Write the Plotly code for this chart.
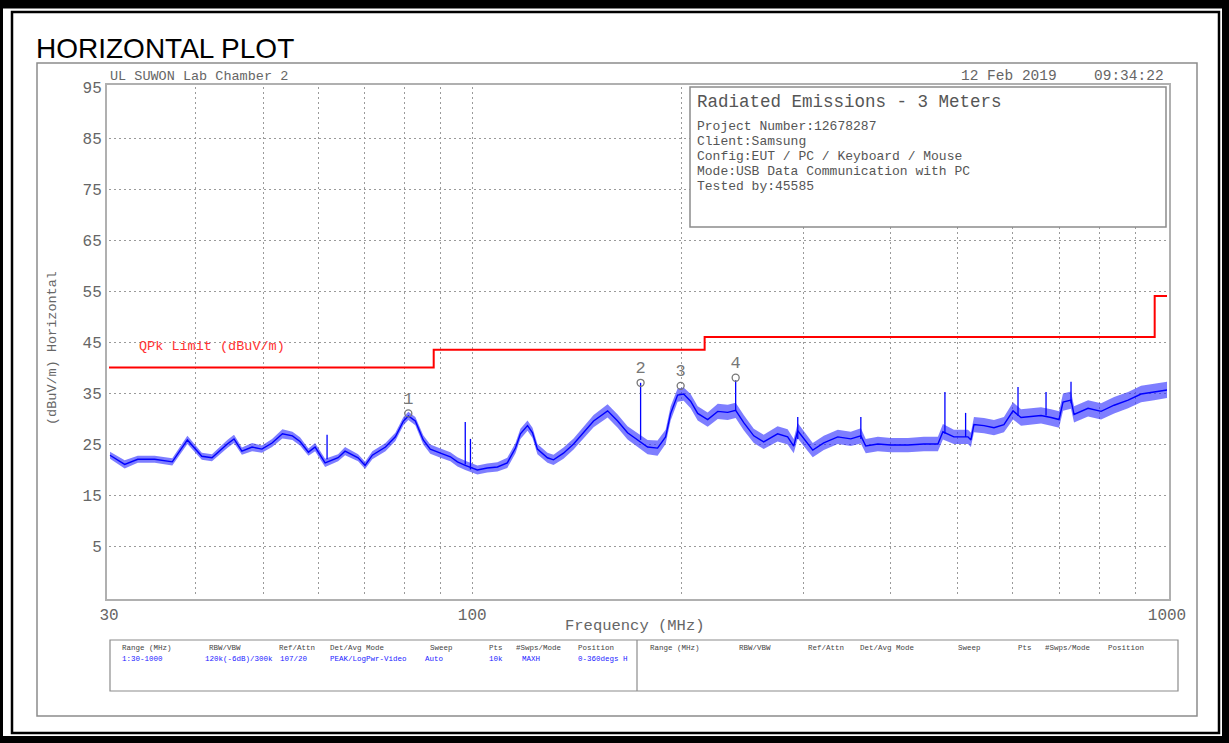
import plotly.graph_objects as go

# ---------------- data ----------------
freq_mhz = [30.1, 31.6, 33.0, 34.9, 37.0, 38.9, 40.8, 42.2, 44.4, 45.4, 46.6, 48.2, 49.8, 51.5,
            53.3, 55.1, 56.5, 58.1, 59.4, 61.4, 64.1, 65.6, 68.5, 70.1, 71.8, 75.0, 77.5, 79.6,
            80.9, 82.8, 85.0, 87.0, 90.0, 93.0, 95.2, 97.7, 101.7, 105.1, 108.7, 112.3, 115.4,
            117.3, 120.1, 122.1, 124.1, 128.3, 130.9, 135.3, 139.9, 144.6, 149.5, 156.6, 161.9,
            167.3, 173.0, 178.8, 184.8, 189.8, 193.0, 197.5, 201.5, 206.2, 211.1, 218.2, 225.6,
            233.2, 239.4, 245.9, 254.2, 262.7, 275.1, 284.4, 290.2, 294.1, 309.1, 320.6, 335.8,
            350.6, 362.5, 368.5, 383.5, 400.4, 423.7, 446.7, 468.0, 475.8, 493.4, 517.0, 522.1,
            527.4, 545.2, 563.6, 582.5, 600.3, 616.4, 637.2, 658.7, 680.9, 699.2, 708.5, 727.5,
            734.8, 769.8, 803.8, 839.2, 879.1, 917.7, 958.1, 1000.0]
level_dbuv = [22.8, 21.0, 22.0, 22.0, 21.5, 25.8, 22.6, 22.3, 25.0, 26.0, 23.6, 24.4, 24.0, 25.2,
              27.0, 26.6, 25.5, 23.4, 24.4, 21.3, 22.3, 23.6, 22.3, 20.8, 22.8, 24.4, 26.4, 29.5,
              30.5, 29.5, 25.8, 24.0, 23.2, 22.5, 21.5, 20.8, 19.9, 20.3, 20.5, 21.3, 24.2,
              27.0, 28.6, 27.2, 24.0, 22.3, 21.9, 23.2, 25.0, 27.2, 29.5, 31.5, 29.5,
              27.2, 25.8, 24.4, 24.2, 26.4, 31.0, 34.6, 34.8, 33.4, 31.0, 29.8, 31.4,
              31.2, 31.6, 29.2, 26.6, 25.4, 27.0, 26.4, 24.6, 27.6, 23.8, 25.2, 26.4,
              26.0, 26.6, 24.6, 25.0, 24.8, 24.8, 25.0, 25.0, 27.4, 26.4, 26.4, 25.8,
              28.8, 28.6, 28.2, 28.8, 31.5, 30.2, 30.4, 30.6, 30.2, 29.8, 33.2, 33.6,
              30.8, 32.0, 31.4, 32.6, 33.6, 34.8, 35.2, 35.6]
noise_spread = [0.7, 0.8, 0.7, 0.7, 0.7, 0.8, 0.7, 0.7, 0.8, 0.8, 0.7, 0.8, 0.7, 0.8,
                0.9, 0.8, 0.8, 0.7, 0.8, 0.8, 0.7, 0.8, 0.7, 0.7, 0.8, 0.8, 0.8, 0.8,
                0.8, 0.8, 0.9, 0.9, 0.9, 0.9, 0.9, 0.9, 0.9, 0.9, 0.9, 1.0, 1.0,
                1.0, 1.0, 1.0, 1.0, 1.0, 1.0, 1.1, 1.1, 1.1, 1.2, 1.3, 1.3,
                1.3, 1.4, 1.4, 1.5, 1.4, 1.4, 1.3, 1.3, 1.4, 1.4, 1.4, 1.5,
                1.5, 1.5, 1.5, 1.4, 1.4, 1.5, 1.5, 1.4, 1.5, 1.4, 1.4, 1.4,
                1.4, 1.5, 1.4, 1.4, 1.4, 1.4, 1.4, 1.4, 1.5, 1.4, 1.4, 1.4,
                1.5, 1.5, 1.5, 1.5, 1.7, 1.6, 1.6, 1.6, 1.6, 1.6, 1.7, 1.7,
                1.6, 1.6, 1.6, 1.6, 1.6, 1.6, 1.6, 1.6]

spike_freq = [61.8, 97.7, 99.4, 174.7, 239.4, 294.1, 362.5, 479.0, 513.0, 610.3, 669.7, 727.5]
spike_base = [22.0, 21.0, 20.0, 25.8, 31.6, 26.0, 26.0, 27.0, 26.4, 30.5, 30.6, 33.0]
spike_peak = [26.8, 29.3, 26.0, 37.0, 37.5, 30.3, 30.3, 35.2, 31.1, 36.2, 35.2, 37.2]

marker_freq = [80.9, 174.7, 199.5, 239.4]
marker_level = [31.0, 37.0, 36.4, 38.0]
marker_label = ["1", "2", "3", "4"]

limit_freq = [30, 88, 216, 960, 1000]
limit_level = [40.0, 43.5, 46.0, 54.0, 54.0]

y_ticks = [95, 85, 75, 65, 55, 45, 35, 25, 15, 5]
x_grid = [30, 40, 50, 60, 70, 80, 90, 100, 200, 300, 400, 500, 600, 700, 800, 900, 1000]
x_labels = ["30", "", "", "", "", "", "", "100", "", "", "", "", "", "", "", "", "1000"]

info_title = "Radiated Emissions - 3 Meters"
info_lines = ["Project Number:12678287", "Client:Samsung", "Config:EUT / PC / Keyboard / Mouse",
              "Mode:USB Data Communication with PC", "Tested by:45585"]

tbl_headers = ["Range (MHz)", "RBW/VBW", "Ref/Attn", "Det/Avg Mode", "Sweep", "Pts", "#Swps/Mode", "Position"]
tbl_values = ["1:30-1000", "120k(-6dB)/300k", "107/20", "PEAK/LogPwr-Video", "Auto", "10k", "MAXH", "0-360degs H"]

# ---------------- layout geometry (pixels) ----------------
W, H = 1229, 743
L, R, T, B = 109, 1167, 87, 597
PW, PH = R - L, B - T


def px(x):
    return (x - L) / PW


def py(y):
    return 1 - (y - T) / PH


MONO = "Liberation Mono"
GRAY = "#666666"
BLUE = "#0000ff"

fig = go.Figure()

# noise band of the trace
lo = [v - s for v, s in zip(level_dbuv, noise_spread)]
hi = [v + s for v, s in zip(level_dbuv, noise_spread)]
fig.add_trace(go.Scatter(x=freq_mhz, y=lo, mode="lines", line=dict(width=0, color=BLUE),
                         hoverinfo="skip"))
fig.add_trace(go.Scatter(x=freq_mhz, y=hi, mode="lines", line=dict(width=0, color=BLUE),
                         fill="tonexty", fillcolor="rgba(40,40,255,0.6)", hoverinfo="skip"))
fig.add_trace(go.Scatter(x=freq_mhz, y=level_dbuv, mode="lines", line=dict(width=1.4, color=BLUE),
                         name="Trace"))

# spikes
sx, sy = [], []
for f, b0, p0 in zip(spike_freq, spike_base, spike_peak):
    sx += [f, f, None]
    sy += [b0, p0, None]
fig.add_trace(go.Scatter(x=sx, y=sy, mode="lines", line=dict(width=1.3, color=BLUE), hoverinfo="skip"))

# limit line
fig.add_trace(go.Scatter(x=limit_freq, y=limit_level, mode="lines", line_shape="hv",
                         line=dict(width=2, color="#ff0000"), name="QPk Limit"))

# markers
fig.add_trace(go.Scatter(x=marker_freq, y=marker_level, mode="markers+text", text=marker_label,
                         textposition="top center",
                         textfont=dict(family=MONO, size=17, color="#777777"),
                         marker=dict(symbol="circle-open", size=7, color="#777777", line=dict(width=1.3))))

fig.update_xaxes(type="log", range=[1.4771, 3.0], tickvals=x_grid, ticktext=x_labels,
                 showgrid=True, gridcolor="#9a9a9a", gridwidth=1, griddash="2px,3px",
                 showline=True, linecolor="#b0b0b0", linewidth=2, mirror=True,
                 ticks="", tickfont=dict(family=MONO, size=16, color=GRAY), zeroline=False)
fig.update_yaxes(range=[-5, 95], tickvals=y_ticks, ticktext=[str(v) for v in y_ticks],
                 showgrid=True, gridcolor="#9a9a9a", gridwidth=1, griddash="2px,3px",
                 showline=True, linecolor="#b0b0b0", linewidth=2, mirror=True,
                 ticks="", tickfont=dict(family=MONO, size=16, color=GRAY), zeroline=False)

shapes = []
# outer heavy frame
for (x0, y0, x1, y1) in [(0, 0, W, 8.5), (0, 0, 3, H), (W - 7, 0, W, H), (0, H - 7, W, H)]:
    shapes.append(dict(type="rect", xref="paper", yref="paper", x0=px(x0), x1=px(x1),
                       y0=py(y1), y1=py(y0), fillcolor="black", line=dict(width=0), layer="above"))
shapes.append(dict(type="rect", xref="paper", yref="paper", x0=px(12), x1=px(1219),
                   y0=py(733), y1=py(12), line=dict(color="black", width=2.5), layer="above"))
# panel
shapes.append(dict(type="rect", xref="paper", yref="paper", x0=px(37), x1=px(1197),
                   y0=py(716), y1=py(63), line=dict(color="#8c8c8c", width=1.5), layer="below"))
# info box (white fill hides grid)
shapes.append(dict(type="rect", xref="paper", yref="paper", x0=px(690), x1=px(1166),
                   y0=py(227), y1=py(87), fillcolor="white", line=dict(color="#8c8c8c", width=1.5),
                   layer="above"))
# settings table
shapes.append(dict(type="rect", xref="paper", yref="paper", x0=px(110), x1=px(1178),
                   y0=py(691), y1=py(640), line=dict(color="#8c8c8c", width=1.2), layer="above"))
shapes.append(dict(type="line", xref="paper", yref="paper", x0=px(637), x1=px(637),
                   y0=py(691), y1=py(640), line=dict(color="#8c8c8c", width=1.2), layer="above"))

ann = []


def text(x, y, s, size, color=GRAY, family=MONO, xanchor="left", yanchor="middle", angle=0):
    ann.append(dict(x=px(x), y=py(y), xref="paper", yref="paper", text=s, showarrow=False,
                    xanchor=xanchor, yanchor=yanchor, textangle=angle,
                    font=dict(family=family, size=size, color=color)))


text(34, 48, "HORIZONTAL PLOT", 28, color="black", family="Liberation Sans")
text(108, 76, "UL SUWON Lab Chamber 2", 13.5)
text(959, 76, "12 Feb 2019", 14.5)
text(1166, 76, "09:34:22", 14.5, xanchor="right")
text(52, 348, "(dBuV/m) Horizontal", 13.5, angle=-90, xanchor="center")
text(635, 626, "Frequency (MHz)", 15.5, xanchor="center")
text(137, 346, "QPk Limit (dBuV/m)", 13.5, color="#ff3333")
text(695, 102, info_title, 17.5, color="#555555")
for i, s in enumerate(info_lines):
    text(695, 127 + i * 14.8, s, 13, color="#555555")

hdr_x_left = [120, 207, 277, 328, 428, 487, 514, 576]
val_x_left = [120, 203, 278, 328, 423, 487, 520, 576]
hdr_x_right = [648, 737, 806, 858, 956, 1016, 1043, 1106]
for s, x in zip(tbl_headers, hdr_x_left):
    text(x, 648, s, 7.5, color="#444444")
for s, x in zip(tbl_values, val_x_left):
    text(x, 659, s, 7.5, color="#2222ff")
for s, x in zip(tbl_headers, hdr_x_right):
    text(x, 648, s, 7.5, color="#444444")

fig.update_layout(width=W, height=H, autosize=False,
                  margin=dict(l=L, r=W - R, t=T, b=H - B, pad=2),
                  paper_bgcolor="white", plot_bgcolor="white", showlegend=False,
                  shapes=shapes, annotations=ann)

fig.write_html("out.html", config={"displayModeBar": False},
               post_script="document.body.style.margin='0px';document.body.style.overflow='hidden';")
